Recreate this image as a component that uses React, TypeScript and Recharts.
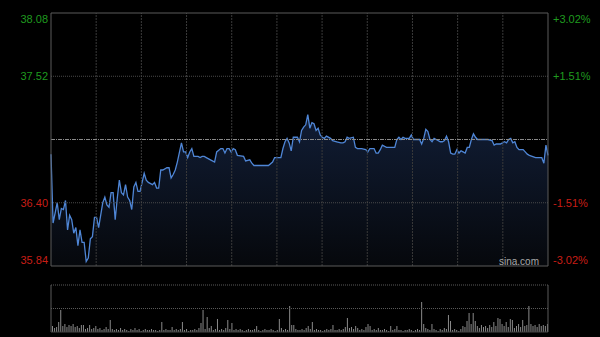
import React from 'react';
import { AreaChart, Area, XAxis, YAxis, ReferenceLine, BarChart, Bar } from 'recharts';

const MINUTES = [
  0, 1, 3, 4, 5, 6, 7, 8, 9, 10, 11, 12, 13, 14, 15, 16, 17, 18, 19, 20,
  21, 22, 23, 24, 25, 26, 27, 28, 29, 30, 31, 32, 33, 34, 35, 36, 37, 38, 39, 40,
  41, 42, 43, 44, 45, 46, 47, 49, 50, 51, 52, 53, 54, 56, 57, 58, 59, 60, 61, 63,
  64, 65, 66, 67, 68, 69, 71, 72, 73, 74, 75, 77, 79, 80, 82, 83, 84, 85, 86, 87,
  88, 89, 90, 93, 94, 96, 97, 98, 100, 103, 105, 107, 108, 111, 112, 113, 114, 115, 116, 117,
  119, 120, 121, 122, 123, 124, 125, 126, 127, 128, 129, 130, 131, 132, 133, 135, 136, 138, 140, 141,
  142, 143, 144, 146, 147, 148, 150, 152, 153, 154, 155, 156, 157, 158, 159, 160, 162, 164, 166, 167,
  168, 169, 170, 171, 173, 174, 175, 177, 178, 179, 180, 181, 182, 183, 184, 185, 186, 188, 189, 190,
  191, 192, 193, 194, 195, 196, 197, 198, 199, 200, 201, 202, 203, 204, 205, 206, 208, 209, 211, 213,
  214, 215, 217, 218, 219, 220, 221, 222, 223, 224, 225, 226, 228, 229, 230, 231, 234, 236, 237, 238,
  239, 240,
];

const PRICES = [
  36.83, 36.22, 36.40, 36.25, 36.35, 36.34, 36.42, 36.16, 36.29, 36.25, 36.13, 36.18, 36.02, 36.16, 36.05, 36.05, 35.88, 35.91, 36.08, 36.10,
  36.27, 36.27, 36.18, 36.29, 36.40, 36.45, 36.38, 36.36, 36.49, 36.49, 36.25, 36.44, 36.60, 36.49, 36.47, 36.56, 36.45, 36.42, 36.34, 36.54,
  36.58, 36.50, 36.50, 36.58, 36.66, 36.60, 36.58, 36.56, 36.58, 36.53, 36.53, 36.69, 36.69, 36.71, 36.71, 36.62, 36.65, 36.69, 36.76, 36.93,
  36.85, 36.85, 36.80, 36.85, 36.88, 36.81, 36.81, 36.80, 36.81, 36.81, 36.80, 36.78, 36.76, 36.85, 36.88, 36.88, 36.84, 36.88, 36.88, 36.85,
  36.88, 36.87, 36.82, 36.81, 36.77, 36.78, 36.75, 36.73, 36.73, 36.73, 36.73, 36.76, 36.80, 36.80, 36.88, 36.94, 36.97, 36.93, 36.86, 36.98,
  36.98, 36.94, 37.04, 37.07, 37.09, 37.18, 37.06, 37.11, 37.10, 37.04, 37.06, 37.00, 36.98, 36.97, 36.99, 36.97, 36.95, 36.94, 36.93, 36.93,
  36.94, 36.98, 36.97, 36.98, 36.89, 36.88, 36.88, 36.87, 36.85, 36.88, 36.88, 36.88, 36.84, 36.84, 36.87, 36.91, 36.89, 36.89, 36.89, 36.96,
  36.98, 36.96, 36.98, 36.97, 36.97, 37.00, 36.96, 36.96, 36.96, 36.92, 36.97, 37.05, 37.03, 36.96, 36.94, 36.97, 36.96, 36.94, 36.94, 36.95,
  36.99, 36.94, 36.84, 36.83, 36.83, 36.87, 36.84, 36.86, 36.85, 36.84, 36.89, 36.89, 36.96, 37.01, 36.98, 36.96, 36.96, 36.96, 36.96, 36.95,
  36.91, 36.92, 36.92, 36.93, 36.94, 36.93, 36.96, 36.97, 36.93, 36.94, 36.89, 36.87, 36.87, 36.85, 36.83, 36.82, 36.80, 36.80, 36.80, 36.75,
  36.91, 36.82,
];

const VOLUMES = [
  6, 4, 5, 10, 22, 6, 8, 5, 7, 6,
  8, 5, 6, 4, 7, 7, 3, 4, 7, 3,
  4, 6, 3, 4, 2, 3, 5, 3, 12, 3,
  2, 3, 2, 4, 2, 3, 2, 1, 3, 2,
  4, 2, 3, 1, 2, 3, 2, 2, 3, 2,
  2, 1, 2, 10, 2, 3, 2, 2, 5, 2,
  3, 2, 3, 10, 2, 3, 1, 2, 2, 3,
  2, 4, 9, 22, 3, 15, 4, 6, 2, 3,
  13, 2, 3, 2, 4, 12, 3, 9, 2, 3,
  2, 3, 2, 1, 2, 3, 2, 2, 3, 6,
  2, 1, 2, 3, 2, 2, 3, 2, 1, 2,
  13, 4, 2, 3, 2, 26, 7, 7, 3, 2,
  2, 3, 2, 4, 6, 3, 10, 2, 3, 2,
  2, 1, 2, 3, 2, 3, 7, 2, 2, 3,
  2, 3, 5, 14, 4, 5, 3, 6, 4, 2,
  3, 2, 5, 8, 6, 2, 3, 2, 4, 2,
  2, 3, 2, 1, 6, 2, 3, 6, 2, 2,
  1, 2, 2, 3, 2, 1, 2, 3, 2, 30,
  8, 4, 3, 2, 8, 3, 2, 1, 3, 2,
  4, 3, 17, 11, 2, 3, 2, 1, 3, 6,
  5, 11, 19, 8, 19, 11, 6, 4, 7, 5,
  6, 4, 7, 5, 10, 6, 14, 13, 8, 6,
  10, 5, 13, 12, 4, 6, 8, 5, 12, 6,
  7, 26, 8, 6, 7, 5, 8, 6, 7, 6,
  8,
];

const PRICE_TICKS = [35.84, 36.40, 36.96, 37.52, 38.08];
const LEFT_LABELS = ['35.84', '36.40', '', '37.52', '38.08'];
const RIGHT_LABELS = ['-3.02%', '-1.51%', '', '+1.51%', '+3.02%'];
const PREV_CLOSE = 36.96;
const VOLUME_MAX = 47;
const SESSION_MINUTES = 240;
const GRID_COLUMNS = 11;

const RED = '#c81e16';
const GREEN = '#1f9a1f';
const FONT = "Arial, 'Liberation Sans', Helvetica, sans-serif";

const priceData = MINUTES.map((m, i) => ({ m, p: PRICES[i] }));
const volumeData = VOLUMES.map((v, i) => ({ i, v }));
const gridX = Array.from({ length: GRID_COLUMNS - 1 }, (_, k) => (SESSION_MINUTES * (k + 1)) / GRID_COLUMNS);

const makeTick = (labels: string[], anchor: 'start' | 'end') => (props: any) => {
  const { x, y, payload } = props;
  const idx = PRICE_TICKS.indexOf(payload.value);
  const label = labels[idx];
  if (!label) return <g />;
  const dy = idx === PRICE_TICKS.length - 1 ? 6 : idx === 0 ? -6 : 0;
  const fill = payload.value > PREV_CLOSE ? GREEN : RED;
  return (
    <text x={x} y={y + dy} dy={4} textAnchor={anchor} fill={fill} fontSize={11} fontFamily={FONT}>
      {label}
    </text>
  );
};

const LeftTick = makeTick(LEFT_LABELS, 'end');
const RightTick = makeTick(RIGHT_LABELS, 'start');

export default function App() {
  return (
    <div style={{ position: 'absolute', left: 0, top: 0, width: 600, height: 337, background: '#000', overflow: 'hidden' }}>
      <div style={{ position: 'absolute', left: 0, top: 0 }}>
        <AreaChart width={600} height={280} data={priceData} margin={{ top: 13, right: 0, bottom: 14, left: 0 }}>
          <defs>
            <linearGradient id="areaFill" x1="0" y1="0" x2="0" y2="1">
              <stop offset="0%" stopColor="#111d35" />
              <stop offset="100%" stopColor="#06080c" />
            </linearGradient>
          </defs>
          <XAxis type="number" dataKey="m" domain={[0, SESSION_MINUTES]} hide />
          <YAxis
            yAxisId="left"
            orientation="left"
            width={51}
            domain={[PRICE_TICKS[0], PRICE_TICKS[4]]}
            ticks={PRICE_TICKS}
            tickSize={0}
            tickMargin={3}
            tickLine={false}
            axisLine={{ stroke: '#5a5a5a' }}
            tick={LeftTick}
            interval={0}
          />
          <YAxis
            yAxisId="right"
            orientation="right"
            width={52}
            domain={[PRICE_TICKS[0], PRICE_TICKS[4]]}
            ticks={PRICE_TICKS}
            tickSize={0}
            tickMargin={5}
            tickLine={false}
            axisLine={{ stroke: '#5a5a5a' }}
            tick={RightTick}
            interval={0}
          />
          {gridX.map((gx) => (
            <ReferenceLine key={gx} yAxisId="left" x={gx} stroke="#3a3a3a" strokeDasharray="2 1" />
          ))}
          <ReferenceLine yAxisId="left" y={PRICE_TICKS[1]} stroke="#4a4a4a" strokeDasharray="1 1" />
          <ReferenceLine yAxisId="left" y={PRICE_TICKS[3]} stroke="#4a4a4a" strokeDasharray="1 1" />
          <Area
            yAxisId="right"
            type="linear"
            dataKey="p"
            stroke="none"
            fill="none"
            baseValue={PRICE_TICKS[0]}
            isAnimationActive={false}
            dot={false}
            activeDot={false}
          />
          <Area
            yAxisId="left"
            type="linear"
            dataKey="p"
            stroke="#4f86d6"
            strokeWidth={1.3}
            fill="url(#areaFill)"
            fillOpacity={1}
            baseValue={PRICE_TICKS[0]}
            isAnimationActive={false}
            dot={false}
            activeDot={false}
          />
          <ReferenceLine yAxisId="left" y={PREV_CLOSE} stroke="#8a8a8a" strokeDasharray="4 1 1 1" />
          <ReferenceLine yAxisId="left" y={PRICE_TICKS[4]} stroke="#5a5a5a" />
          <ReferenceLine yAxisId="left" y={PRICE_TICKS[0]} stroke="#5a5a5a" />
        </AreaChart>
      </div>
      <div
        style={{
          position: 'absolute',
          left: 499,
          top: 256,
          fontFamily: FONT,
          fontSize: 10,
          color: '#a8a8a8',
          lineHeight: '11px',
        }}
      >
        sina.com
      </div>
      <div style={{ position: 'absolute', left: 0, top: 280 }}>
        <BarChart width={600} height={57} data={volumeData} margin={{ top: 5, right: 0, bottom: 5, left: 0 }} barCategoryGap={0}>
          <XAxis dataKey="i" hide />
          <YAxis yAxisId="l" orientation="left" width={51} domain={[0, VOLUME_MAX]} tick={false} tickLine={false} axisLine={{ stroke: '#5a5a5a' }} />
          <YAxis yAxisId="r" orientation="right" width={52} domain={[0, VOLUME_MAX]} tick={false} tickLine={false} axisLine={{ stroke: '#5a5a5a' }} />
          <ReferenceLine yAxisId="l" y={VOLUME_MAX} stroke="#5a5a5a" strokeDasharray="1 1" />
          <ReferenceLine yAxisId="l" y={VOLUME_MAX / 2} stroke="#5a5a5a" strokeDasharray="1 1" />
          <ReferenceLine yAxisId="l" y={0} stroke="#444" />
          <Bar yAxisId="l" dataKey="v" fill="#8a8a8a" barSize={1} isAnimationActive={false} />
        </BarChart>
      </div>
    </div>
  );
}
